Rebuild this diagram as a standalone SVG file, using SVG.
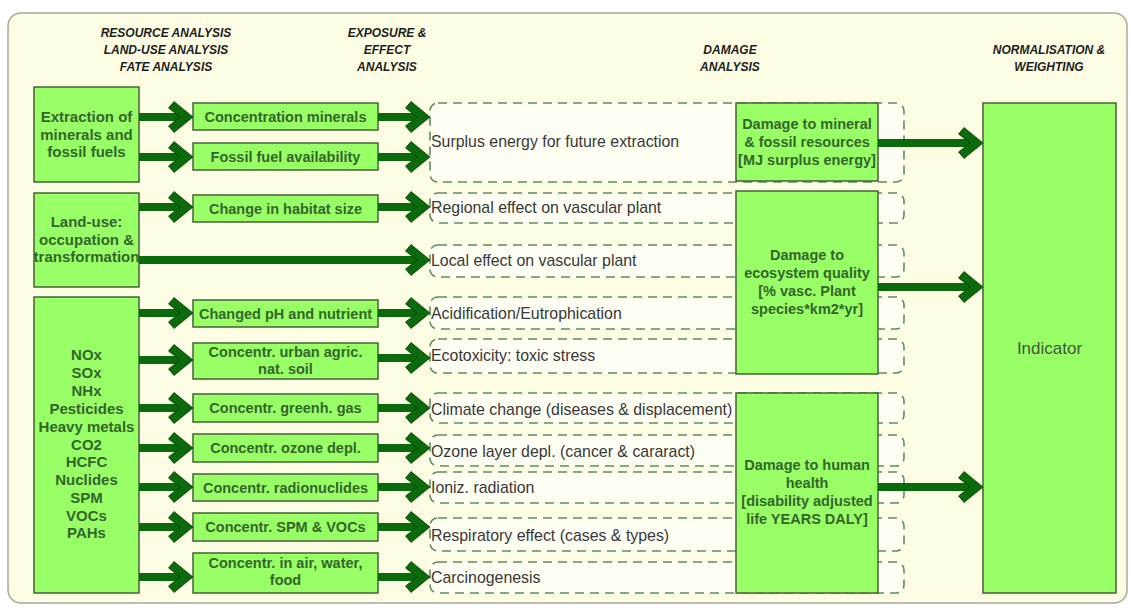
<svg xmlns="http://www.w3.org/2000/svg" xmlns:xlink="http://www.w3.org/1999/xlink" width="1131" height="608" viewBox="0 0 1131 608">
<style>
.bg{fill:#fdfde4;stroke:#a8a8a0;stroke-width:1.5}
.box{fill:#99ff66;stroke:#45603a;stroke-width:1.5}
.dash{fill:#fffff4;stroke:#5e8e5e;stroke-width:1.6;stroke-dasharray:9 6}
.bt{font-family:"Liberation Sans",Arial,sans-serif;font-weight:bold;font-size:14.5px;fill:#34662c;text-anchor:middle}
.lt{font-family:"Liberation Sans",Arial,sans-serif;font-weight:bold;font-size:15px;fill:#34662c;text-anchor:middle}
.dt{font-family:"Liberation Sans",Arial,sans-serif;font-size:15.9px;fill:#383838}
.hd{font-family:"Liberation Sans",Arial,sans-serif;font-weight:bold;font-style:italic;font-size:12px;fill:#1e1e1e;text-anchor:middle}
.ind{font-family:"Liberation Sans",Arial,sans-serif;font-size:17px;fill:#3d5a38;text-anchor:middle}
.shaft{stroke:#0b6a0b;stroke-width:8;fill:none}
.head{fill:#0b6a0b;stroke:#063f06;stroke-width:0.8;stroke-linejoin:miter}
</style>
<defs>
<path id="h" class="head" d="M0,0 L-19,-15.5 L-24.5,-9 L-13,0 L-24.5,9 L-19,15.5 Z"/>
</defs>
<rect class="bg" x="8" y="13" width="1119" height="590" rx="13"/>

<g id="headers">
<text class="hd" x="166" y="36.5">RESOURCE ANALYSIS</text>
<text class="hd" x="166" y="53.5">LAND-USE ANALYSIS</text>
<text class="hd" x="166" y="70.5">FATE ANALYSIS</text>
<text class="hd" x="387" y="36.5">EXPOSURE &amp;</text>
<text class="hd" x="387" y="53.5">EFFECT</text>
<text class="hd" x="387" y="70.5">ANALYSIS</text>
<text class="hd" x="730" y="53.5">DAMAGE</text>
<text class="hd" x="730" y="70.5">ANALYSIS</text>
<text class="hd" x="1049" y="53.5">NORMALISATION &amp;</text>
<text class="hd" x="1049" y="70.5">WEIGHTING</text>
</g>

<g id="src-extraction">
<rect class="box" x="34" y="87" width="105" height="95"/>
<text class="lt" x="86.5" y="122">Extraction of</text>
<text class="lt" x="86.5" y="139.5">minerals and</text>
<text class="lt" x="86.5" y="157">fossil fuels</text>
</g>
<g id="src-landuse">
<rect class="box" x="34" y="193" width="105" height="94"/>
<text class="lt" x="86.5" y="227">Land-use:</text>
<text class="lt" x="86.5" y="244.5">occupation &amp;</text>
<text class="lt" x="86.5" y="262">transformation</text>
</g>
<g id="src-emissions">
<rect class="box" x="34" y="297" width="105" height="296"/>
<text class="lt" x="86.5" y="360">NOx</text>
<text class="lt" x="86.5" y="378">SOx</text>
<text class="lt" x="86.5" y="396">NHx</text>
<text class="lt" x="86.5" y="413.5">Pesticides</text>
<text class="lt" x="86.5" y="431.5">Heavy metals</text>
<text class="lt" x="86.5" y="449.5">CO2</text>
<text class="lt" x="86.5" y="467">HCFC</text>
<text class="lt" x="86.5" y="485">Nuclides</text>
<text class="lt" x="86.5" y="503">SPM</text>
<text class="lt" x="86.5" y="520.5">VOCs</text>
<text class="lt" x="86.5" y="538">PAHs</text>
</g>

<g id="mid-conc-minerals"><rect class="box" x="193" y="103" width="185" height="27"/><text class="bt" x="285.5" y="121.5">Concentration minerals</text></g>
<g id="mid-fossil"><rect class="box" x="193" y="143" width="185" height="27"/><text class="bt" x="285.5" y="161.5">Fossil fuel availability</text></g>
<g id="mid-habitat"><rect class="box" x="193" y="195" width="185" height="27"/><text class="bt" x="285.5" y="213.5">Change in habitat size</text></g>
<g id="mid-ph"><rect class="box" x="193" y="300" width="185" height="27"/><text class="bt" x="285.5" y="318.5">Changed pH and nutrient</text></g>
<g id="mid-urban"><rect class="box" x="193" y="343" width="185" height="36"/><text class="bt" x="285.5" y="357">Concentr. urban agric.</text><text class="bt" x="285.5" y="374">nat. soil</text></g>
<g id="mid-greenh"><rect class="box" x="193" y="394" width="185" height="28"/><text class="bt" x="285.5" y="413">Concentr. greenh. gas</text></g>
<g id="mid-ozone"><rect class="box" x="193" y="434" width="185" height="28"/><text class="bt" x="285.5" y="453">Concentr. ozone depl.</text></g>
<g id="mid-radio"><rect class="box" x="193" y="474" width="185" height="27"/><text class="bt" x="285.5" y="492.5">Concentr. radionuclides</text></g>
<g id="mid-spm"><rect class="box" x="193" y="513" width="185" height="28"/><text class="bt" x="285.5" y="532">Concentr. SPM &amp; VOCs</text></g>
<g id="mid-air"><rect class="box" x="193" y="553" width="185" height="40"/><text class="bt" x="285.5" y="568">Concentr. in air, water,</text><text class="bt" x="285.5" y="585">food</text></g>

<g id="eff-surplus"><rect class="dash" x="430" y="103" width="474" height="79" rx="8"/><text class="dt" x="431" y="146.5">Surplus energy for future extraction</text></g>
<g id="eff-regional"><rect class="dash" x="430" y="193" width="474" height="30" rx="8"/><text class="dt" x="431" y="212.5">Regional effect on vascular plant</text></g>
<g id="eff-local"><rect class="dash" x="430" y="245" width="474" height="32" rx="8"/><text class="dt" x="431" y="265.5">Local effect on vascular plant</text></g>
<g id="eff-acid"><rect class="dash" x="430" y="297" width="474" height="32" rx="8"/><text class="dt" x="431" y="318.5">Acidification/Eutrophication</text></g>
<g id="eff-ecotox"><rect class="dash" x="430" y="339" width="474" height="34" rx="8"/><text class="dt" x="431" y="360.5">Ecotoxicity: toxic stress</text></g>
<g id="eff-climate"><rect class="dash" x="430" y="393" width="474" height="30" rx="8"/><text class="dt" x="431" y="414.5">Climate change (diseases &amp; displacement)</text></g>
<g id="eff-ozone"><rect class="dash" x="430" y="435" width="474" height="31" rx="8"/><text class="dt" x="431" y="456.5">Ozone layer depl. (cancer &amp; cararact)</text></g>
<g id="eff-ioniz"><rect class="dash" x="430" y="472" width="474" height="31" rx="8"/><text class="dt" x="431" y="492.5">Ioniz. radiation</text></g>
<g id="eff-resp"><rect class="dash" x="430" y="518" width="474" height="33" rx="8"/><text class="dt" x="431" y="540.5">Respiratory effect (cases &amp; types)</text></g>
<g id="eff-carcino"><rect class="dash" x="430" y="562" width="474" height="31" rx="8"/><text class="dt" x="431" y="582.5">Carcinogenesis</text></g>

<g id="dmg-resources">
<rect class="box" x="736" y="103" width="142" height="78"/>
<text class="bt" x="807" y="129">Damage to mineral</text>
<text class="bt" x="807" y="147">&amp; fossil resources</text>
<text class="bt" x="807" y="165">[MJ surplus energy]</text>
</g>
<g id="dmg-ecosystem">
<rect class="box" x="736" y="191" width="142" height="183"/>
<text class="bt" x="807" y="260">Damage to</text>
<text class="bt" x="807" y="278">ecosystem quality</text>
<text class="bt" x="807" y="296">[% vasc. Plant</text>
<text class="bt" x="807" y="314">species*km2*yr]</text>
</g>
<g id="dmg-health">
<rect class="box" x="736" y="393" width="142" height="200"/>
<text class="bt" x="807" y="470">Damage to human</text>
<text class="bt" x="807" y="488">health</text>
<text class="bt" x="807" y="506">[disability adjusted</text>
<text class="bt" x="807" y="524">life YEARS DALY]</text>
</g>

<g id="indicator">
<rect class="box" x="983" y="103" width="133" height="490"/>
<text class="ind" x="1049.5" y="354">Indicator</text>
</g>

<g id="connectors">
<path class="shaft" d="M139,117H181M378,117H418M139,157H181M378,157H418M139,207H181M378,207H418M139,260H418M139,313H181M378,313H418M139,360H181M378,358H418M139,408H181M378,408H418M139,448H181M378,448H418M139,487H181M378,487H418M139,527H181M378,527H418M139,577H181M378,577H418M878,143H971M878,287H971M878,487H971"/>
<use xlink:href="#h" x="193" y="117"/><use xlink:href="#h" x="430" y="117"/>
<use xlink:href="#h" x="193" y="157"/><use xlink:href="#h" x="430" y="157"/>
<use xlink:href="#h" x="193" y="207"/><use xlink:href="#h" x="430" y="207"/>
<use xlink:href="#h" x="430" y="260"/>
<use xlink:href="#h" x="193" y="313"/><use xlink:href="#h" x="430" y="313"/>
<use xlink:href="#h" x="193" y="360"/><use xlink:href="#h" x="430" y="358"/>
<use xlink:href="#h" x="193" y="408"/><use xlink:href="#h" x="430" y="408"/>
<use xlink:href="#h" x="193" y="448"/><use xlink:href="#h" x="430" y="448"/>
<use xlink:href="#h" x="193" y="487"/><use xlink:href="#h" x="430" y="487"/>
<use xlink:href="#h" x="193" y="527"/><use xlink:href="#h" x="430" y="527"/>
<use xlink:href="#h" x="193" y="577"/><use xlink:href="#h" x="430" y="577"/>
<use xlink:href="#h" x="983" y="143"/><use xlink:href="#h" x="983" y="287"/><use xlink:href="#h" x="983" y="487"/>
</g>
</svg>
